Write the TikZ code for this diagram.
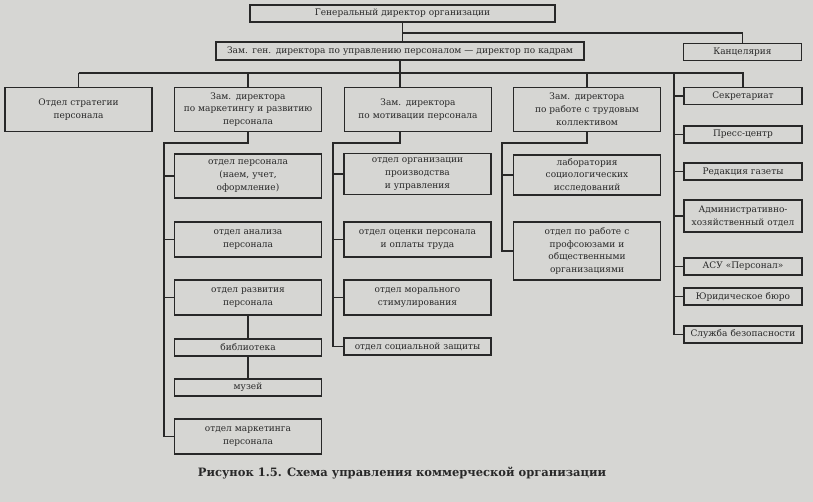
\documentclass[tikz,border=0pt]{standalone}
\usepackage{fontspec}
\setmainfont{DejaVu Serif}
\usepackage{xcolor}

\definecolor{paper}{RGB}{214,214,211}
\definecolor{ink}{RGB}{40,40,40}

\begin{document}
\begin{tikzpicture}[
    x=1pt, y=-1pt,
    unit/.style={
        draw=ink,
        line width=1.1pt,
        fill=paper,
        text=ink,
        align=center,
        inner xsep=3pt,
        inner ysep=0pt,
        font=\fontsize{9}{12.8}\selectfont
    },
    dept/.style={unit, text width=141pt},
    office/.style={unit, text width=112pt},
    link/.style={
        draw=ink,
        line width=1.1pt
    }
]

    % --- Paper ---
    \fill[paper] (0,0) rectangle (813,502);
    \useasboundingbox (0,0) rectangle (813,502);

    % --- Nodes ---

    % Top levels
    \node [unit, text width=299pt, minimum height=17pt] (gendir) at (402.5,13.5) {Генеральный директор организации};
    \node [unit, text width=362pt, minimum height=18pt] (zamgen) at (400,51) {Зам. ген. директора по управлению персоналом — директор по кадрам};
    \node [office, minimum height=17pt] (kanc) at (742.5,52) {Канцелярия};

    % Deputies row
    \node [dept, minimum height=44pt] (strat) at (78.5,109.5) {Отдел стратегии\\персонала};
    \node [dept, minimum height=44pt] (mark) at (248,109.5) {Зам. директора\\по маркетингу и развитию\\персонала};
    \node [dept, minimum height=44pt] (motiv) at (418,109.5) {Зам. директора\\по мотивации персонала};
    \node [dept, minimum height=44pt] (trud) at (587,109.5) {Зам. директора\\по работе с трудовым\\коллективом};

    % Marketing column
    \node [dept, minimum height=44pt] (pers) at (248,176) {отдел персонала\\(наем, учет,\\оформление)};
    \node [dept, minimum height=35pt] (anal) at (248,239.5) {отдел анализа\\персонала};
    \node [dept, minimum height=35pt] (razv) at (248,297.5) {отдел развития\\персонала};
    \node [dept, minimum height=17pt] (lib) at (248,347.5) {библиотека};
    \node [dept, minimum height=17pt] (muz) at (248,387.5) {музей};
    \node [dept, minimum height=35pt] (mktg) at (248,436.5) {отдел маркетинга\\персонала};

    % Motivation column
    \node [dept, minimum height=41pt] (org) at (417.5,174) {отдел организации\\производства\\и управления};
    \node [dept, minimum height=35pt] (ocen) at (417.5,239.5) {отдел оценки персонала\\и оплаты труда};
    \node [dept, minimum height=35pt] (moral) at (417.5,297.5) {отдел морального\\стимулирования};
    \node [dept, minimum height=17pt] (szash) at (417.5,346.5) {отдел социальной защиты};

    % Labour collective column
    \node [dept, minimum height=40pt] (lab) at (587,175) {лаборатория\\социологических\\исследований};
    \node [dept, minimum height=58pt] (prof) at (587,251) {отдел по работе с\\профсоюзами и\\общественными\\организациями};

    % Chancellery column
    \node [office, minimum height=17pt] (sekr) at (743,96) {Секретариат};
    \node [office, minimum height=17pt] (press) at (743,134.5) {Пресс-центр};
    \node [office, minimum height=17pt] (redak) at (743,171.5) {Редакция газеты};
    \node [office, minimum height=32pt] (admin) at (743,216) {Административно-\\хозяйственный отдел};
    \node [office, minimum height=17pt] (asu) at (743,266.5) {АСУ «Персонал»};
    \node [office, minimum height=17pt] (jurid) at (743,296.5) {Юридическое бюро};
    \node [office, minimum height=17pt] (sluzh) at (743,334.5) {Служба безопасности};

    % Caption
    \node [text=ink, font=\bfseries\fontsize{11.5}{14}\selectfont] (caption) at (402,473) {Рисунок 1.5. Схема управления коммерческой организации};

    % --- Connections ---
    \coordinate (bus1) at (0,33);
    \coordinate (bus2) at (0,73);

    \path [link] (gendir) -- (gendir.south |- zamgen.north);
    \path [link] (gendir.south |- bus1) -| (kanc.north);
    \path [link] (zamgen.south) -- (zamgen.south |- motiv.north);
    \path [link] (strat.north |- bus2) -- (sekr.north |- bus2) -- (sekr.north);
    \foreach \n in {strat, mark, trud}
        \path [link] (\n.north |- bus2) -- (\n.north);

    % Marketing branch
    \coordinate (spmark) at (164,143);
    \path [link] (mark.south) -- (mark.south |- spmark) -- (spmark) -- (spmark |- mktg.west) -- (mktg.west);
    \foreach \n in {pers, anal, razv}
        \path [link] (spmark |- \n.west) -- (\n.west);
    \path [link] (razv) -- (lib) -- (muz);

    % Motivation branch
    \coordinate (spmot) at (333,143);
    \path [link] (zamgen.south |- motiv.south) -- (zamgen.south |- spmot) -- (spmot) -- (spmot |- szash.west) -- (szash.west);
    \foreach \n in {org, ocen, moral}
        \path [link] (spmot |- \n.west) -- (\n.west);

    % Labour collective branch
    \coordinate (sptrud) at (502,143);
    \path [link] (trud.south) -- (trud.south |- sptrud) -- (sptrud) -- (sptrud |- prof.west) -- (prof.west);
    \path [link] (sptrud |- lab.west) -- (lab.west);

    % Chancellery branch
    \coordinate (spkanc) at (674,73);
    \path [link] (spkanc) -- (spkanc |- sluzh.west) -- (sluzh.west);
    \foreach \n in {sekr, press, redak, admin, asu, jurid}
        \path [link] (spkanc |- \n.west) -- (\n.west);

\end{tikzpicture}
\end{document}
